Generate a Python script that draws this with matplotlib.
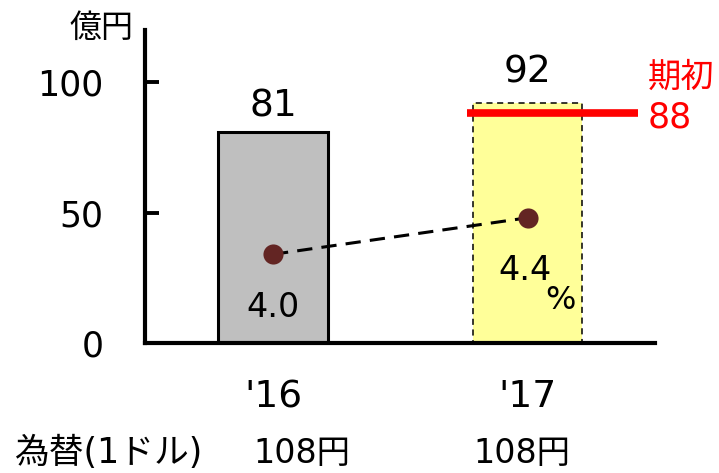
import matplotlib
matplotlib.use("Agg")
import matplotlib.pyplot as plt

categories = ["'16", "'17"]
sales = [81, 92]
margin_pos = [34, 48]          # dot heights (axis units)
margin_labels = ["4.0", "4.4"]
plan_value = 88
fx_labels = ["108円", "108円"]
fx_title = "為替(1ドル)"
yticks = [0, 50, 100]

plt.rcParams['font.family'] = ['DejaVu Sans', 'Noto Sans CJK JP']

fig = plt.figure(figsize=(7.19, 4.73), dpi=100)
ax = fig.add_axes([145/719, 1-343/473, 510/719, 313/473])
x = list(range(len(categories)))

bw = 0.432
ax.bar(x[0], sales[0], width=bw, color='#bfbfbf', edgecolor='black', linewidth=2.2, zorder=2)
ax.bar(x[1], sales[1], width=bw, color='#ffff99', edgecolor='black', linewidth=1.1,
       linestyle=(0, (4, 3)), zorder=2)

label_offsets = [9.5, 11.8]
for xi, v, off in zip(x, sales, label_offsets):
    ax.text(xi, v + off, str(v), ha='center', va='center', fontsize=27)

# plan line
ax.plot([0.762, 1.434], [plan_value, plan_value], color='#ff0000', lw=5.5, solid_capstyle='butt', zorder=4)
ax.text(1.472, plan_value + 14, "期初", color='#ff0000', fontsize=24, ha='left', va='center',
        family=['Noto Sans CJK JP'])
ax.text(1.472, plan_value - 1.5, str(plan_value), color='#ff0000', fontsize=25, ha='left', va='center')

# margin line
ax.plot(x, margin_pos, color='black', lw=2.2, linestyle=(0, (5, 3)), zorder=3)
ax.scatter(x, margin_pos, s=210, color='#632523', zorder=5, linewidths=0)
ax.text(x[0], 13.8, margin_labels[0], ha='center', va='center', fontsize=24)
ax.text(x[1] - 0.01, 27.8, margin_labels[1], ha='center', va='center', fontsize=24)
ax.text(1.13, 16.3, "%", ha='center', va='center', fontsize=23)

ax.set_xlim(-0.503, 1.501)
ax.set_ylim(0, 120)
ax.set_yticks(yticks)
ax.set_yticklabels([str(t) for t in yticks], fontsize=25)
ax.tick_params(axis='y', direction='in', length=10, width=2.8, pad=30)
ax.set_xticks(x)
ax.set_xticklabels(categories, fontsize=27)
ax.tick_params(axis='x', length=0, pad=26)
for s in ['top', 'right']:
    ax.spines[s].set_visible(False)
for s in ['left', 'bottom']:
    ax.spines[s].set_linewidth(3)

fig.text(101/719, 1-28/473, "億円", ha='center', va='center', fontsize=23,
         family=['Noto Sans CJK JP'])
fig.text(15/719, 1-453/473, fx_title, ha='left', va='center', fontsize=25)
for xc, lab in zip([302, 522], fx_labels):
    fig.text(xc/719, 1-453/473, lab, ha='center', va='center', fontsize=24)

fig.savefig("out.png", dpi=100)
